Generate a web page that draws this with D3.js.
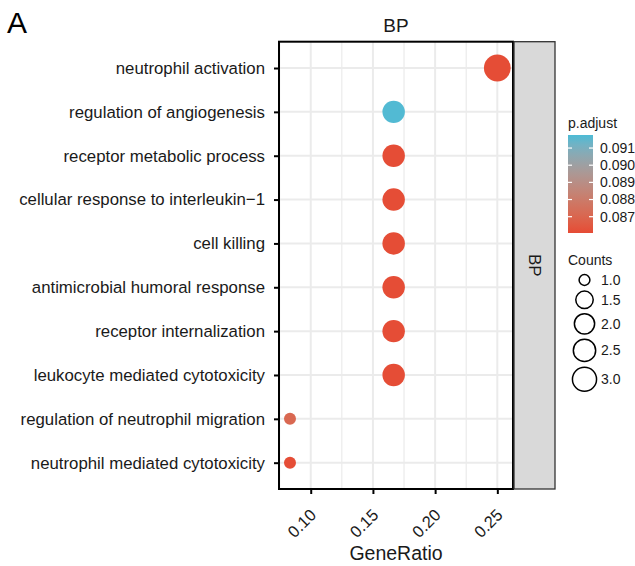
<!DOCTYPE html>
<html>
<head>
<meta charset="utf-8">
<script src="https://cdn.jsdelivr.net/npm/d3@7"></script>
<style>
  body { margin: 0; background: #fff; }
  text { font-family: "Liberation Sans", Arial, sans-serif; }
</style>
</head>
<body>
<div class="container"></div>
<script>
// data
var terms = ["neutrophil activation", "regulation of angiogenesis", "receptor metabolic process",
  "cellular response to interleukin\u22121", "cell killing", "antimicrobial humoral response",
  "receptor internalization", "leukocyte mediated cytotoxicity",
  "regulation of neutrophil migration", "neutrophil mediated cytotoxicity"];
var geneRatio = [3/12, 2/12, 2/12, 2/12, 2/12, 2/12, 2/12, 2/12, 1/12, 1/12];
var counts = [3, 2, 2, 2, 2, 2, 2, 2, 1, 1];
var pAdjust = [0.0861, 0.0917, 0.0861, 0.0861, 0.0861, 0.0861, 0.0861, 0.0861, 0.0871, 0.0861];
var xTicks = [0.10, 0.15, 0.20, 0.25];
var pTicks = [0.087, 0.088, 0.089, 0.090, 0.091];
var countTicks = [1.0, 1.5, 2.0, 2.5, 3.0];

var width = 635, height = 566;
var panel = {left: 279, right: 513, top: 41.7, bottom: 489};
var stripW = 41;

var svg = d3.select(".container").append("svg")
  .attr("width", width).attr("height", height);

var xScale = d3.scaleLinear().domain([0.0745, 0.2626]).range([panel.left, panel.right]);
var yScale = d3.scalePoint().domain(terms).range([panel.top, panel.bottom]).padding(0.6);
var colorScale = d3.scaleLinear().domain([0.08605, 0.09176]).range(["#E64B35", "#4DBBD5"])
  .interpolate(d3.interpolateLab);
var sizeScale = d3.scaleSqrt().domain([0, 2]).range([6, 13.4]);
var radius = function(c) { return sizeScale(c - 1); };

// panel label
svg.append("text").attr("x", 7).attr("y", 33).attr("font-size", 30).text("A");

// facet title
svg.append("text").attr("x", (panel.left + panel.right) / 2).attr("y", 32)
  .attr("text-anchor", "middle").attr("font-size", 19).attr("fill", "#1a1a1a").text("BP");

// grid
var grid = svg.append("g");
var minor = [0.075, 0.125, 0.175, 0.225];
grid.selectAll(".minor").data(minor).enter().append("line")
  .attr("x1", d => xScale(d)).attr("x2", d => xScale(d))
  .attr("y1", panel.top).attr("y2", panel.bottom)
  .attr("stroke", "#ebebeb").attr("stroke-width", 1.2);
grid.selectAll(".vmajor").data(xTicks).enter().append("line")
  .attr("x1", d => xScale(d)).attr("x2", d => xScale(d))
  .attr("y1", panel.top).attr("y2", panel.bottom)
  .attr("stroke", "#ebebeb").attr("stroke-width", 2);
grid.selectAll(".hmajor").data(terms).enter().append("line")
  .attr("x1", panel.left).attr("x2", panel.right)
  .attr("y1", d => yScale(d)).attr("y2", d => yScale(d))
  .attr("stroke", "#ebebeb").attr("stroke-width", 2);

// dots
svg.append("g").selectAll("circle").data(terms).enter().append("circle")
  .attr("cx", (d, i) => xScale(geneRatio[i]))
  .attr("cy", d => yScale(d))
  .attr("r", (d, i) => radius(counts[i]))
  .attr("fill", (d, i) => colorScale(pAdjust[i]));

// panel border
svg.append("rect").attr("x", panel.left).attr("y", panel.top)
  .attr("width", panel.right - panel.left).attr("height", panel.bottom - panel.top)
  .attr("fill", "none").attr("stroke", "#000").attr("stroke-width", 2);

// right strip
svg.append("rect").attr("x", panel.right + 1).attr("y", panel.top)
  .attr("width", stripW).attr("height", panel.bottom - panel.top)
  .attr("fill", "#d9d9d9").attr("stroke", "#333").attr("stroke-width", 1.3);
svg.append("text")
  .attr("transform", "translate(" + (panel.right + 1 + stripW / 2) + "," + ((panel.top + panel.bottom) / 2) + ") rotate(90)")
  .attr("text-anchor", "middle").attr("dy", "0.35em")
  .attr("font-size", 17).attr("fill", "#1a1a1a").text("BP");

// axes
var yAxis = d3.axisLeft(yScale).tickSize(5).tickPadding(9);
var gy = svg.append("g").attr("transform", "translate(" + panel.left + ",0)").call(yAxis);
gy.select(".domain").remove();
gy.selectAll("line").attr("stroke", "#000").attr("stroke-width", 2);
gy.selectAll("text").attr("font-size", 16.8).attr("fill", "#1a1a1a")
  .attr("font-family", "Liberation Sans, Arial, sans-serif");

var xAxis = d3.axisBottom(xScale).tickValues(xTicks).tickFormat(d3.format(".2f")).tickSize(5);
var gx = svg.append("g").attr("transform", "translate(0," + panel.bottom + ")").call(xAxis);
gx.select(".domain").remove();
gx.selectAll("line").attr("stroke", "#000").attr("stroke-width", 2);
gx.selectAll("text").attr("font-size", 16.5).attr("fill", "#1a1a1a")
  .attr("font-family", "Liberation Sans, Arial, sans-serif")
  .attr("text-anchor", "end").attr("dy", null)
  .attr("transform", "translate(6,27) rotate(-45)")
  .attr("y", 0).attr("x", 0);

svg.append("text").attr("x", (panel.left + panel.right) / 2).attr("y", 560)
  .attr("text-anchor", "middle").attr("font-size", 19.5).attr("fill", "#1a1a1a").text("GeneRatio");

// colour legend
var bar = {x: 568, y: 135, w: 25, h: 98};
var defs = svg.append("defs");
var grad = defs.append("linearGradient").attr("id", "pgrad")
  .attr("x1", 0).attr("y1", 1).attr("x2", 0).attr("y2", 0);
d3.range(0, 1.0001, 0.1).forEach(function(t) {
  var v = colorScale.domain()[0] + t * (colorScale.domain()[1] - colorScale.domain()[0]);
  grad.append("stop").attr("offset", t).attr("stop-color", colorScale(v));
});
svg.append("text").attr("x", bar.x).attr("y", 128).attr("font-size", 14).attr("fill", "#1a1a1a").text("p.adjust");
svg.append("rect").attr("x", bar.x).attr("y", bar.y).attr("width", bar.w).attr("height", bar.h)
  .attr("fill", "url(#pgrad)");
var pY = d3.scaleLinear().domain(colorScale.domain()).range([bar.y + bar.h, bar.y]);
var pt = svg.append("g").selectAll("g").data(pTicks).enter().append("g");
pt.append("line").attr("x1", bar.x).attr("x2", bar.x + 4)
  .attr("y1", d => pY(d)).attr("y2", d => pY(d)).attr("stroke", "#fff").attr("stroke-width", 1.2);
pt.append("line").attr("x1", bar.x + bar.w - 4).attr("x2", bar.x + bar.w)
  .attr("y1", d => pY(d)).attr("y2", d => pY(d)).attr("stroke", "#fff").attr("stroke-width", 1.2);
pt.append("text").attr("x", 600).attr("y", d => pY(d)).attr("dy", "0.35em")
  .attr("font-size", 14).attr("fill", "#1a1a1a").text(d => d3.format(".3f")(d));

// size legend
svg.append("text").attr("x", bar.x).attr("y", 265).attr("font-size", 14).attr("fill", "#1a1a1a").text("Counts");
var keyY = [];
var yy = 280;
countTicks.forEach(function(c, i) {
  if (i > 0) {
    var hPrev = Math.max(17.3, 2 * radius(countTicks[i - 1]) + 3);
    var hCur = Math.max(17.3, 2 * radius(c) + 3);
    yy += (hPrev + hCur) / 2;
  }
  keyY.push(yy);
});
var sk = svg.append("g").selectAll("g").data(countTicks).enter().append("g");
sk.append("circle").attr("cx", 584.5).attr("cy", (d, i) => keyY[i]).attr("r", d => radius(d) * 0.9)
  .attr("fill", "none").attr("stroke", "#000").attr("stroke-width", 1.5);
sk.append("text").attr("x", 601).attr("y", (d, i) => keyY[i]).attr("dy", "0.35em")
  .attr("font-size", 14).attr("fill", "#1a1a1a").text(d => d3.format(".1f")(d));
</script>
</body>
</html>
